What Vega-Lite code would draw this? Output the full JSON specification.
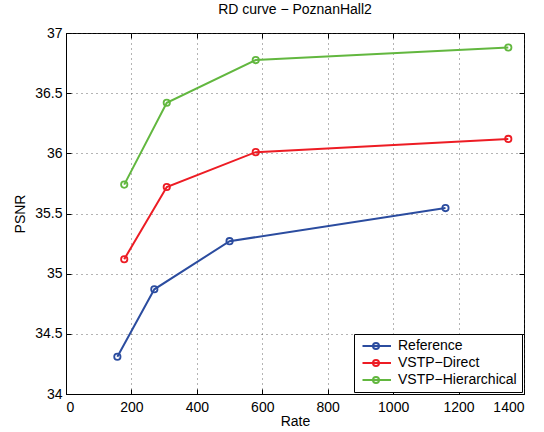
{
  "$schema": "https://vega.github.io/schema/vega-lite/v6.json",
  "width": 458,
  "height": 361,
  "autosize": {"type": "none"},
  "padding": {"left": 66, "top": 33, "right": 20, "bottom": 38},
  "background": "white",
  "title": {
    "text": "RD curve − PoznanHall2",
    "font": "Liberation Sans",
    "fontSize": 14,
    "fontWeight": "normal",
    "color": "black",
    "offset": 9
  },
  "config": {
    "view": {"stroke": "black", "strokeWidth": 1},
    "axis": {
      "labelFont": "Liberation Sans",
      "titleFont": "Liberation Sans",
      "labelFontSize": 14,
      "titleFontSize": 14,
      "titleFontWeight": "normal",
      "labelColor": "black",
      "titleColor": "black",
      "domainColor": "black",
      "tickColor": "black",
      "gridColor": "#444",
      "gridDash": [1, 4],
      "gridOpacity": 0.8
    }
  },
  "data": {
    "values": [
      {"series": "Reference", "rate": 157, "psnr": 34.31},
      {"series": "Reference", "rate": 270, "psnr": 34.87},
      {"series": "Reference", "rate": 500, "psnr": 35.27},
      {"series": "Reference", "rate": 1160, "psnr": 35.545},
      {"series": "VSTP−Direct", "rate": 178, "psnr": 35.12},
      {"series": "VSTP−Direct", "rate": 308, "psnr": 35.72},
      {"series": "VSTP−Direct", "rate": 580, "psnr": 36.01},
      {"series": "VSTP−Direct", "rate": 1352, "psnr": 36.12},
      {"series": "VSTP−Hierarchical", "rate": 178, "psnr": 35.74},
      {"series": "VSTP−Hierarchical", "rate": 308, "psnr": 36.42},
      {"series": "VSTP−Hierarchical", "rate": 580, "psnr": 36.775},
      {"series": "VSTP−Hierarchical", "rate": 1352, "psnr": 36.88}
    ]
  },
  "resolve": {"axis": {"x": "independent", "y": "independent"}},
  "layer": [
    {
      "mark": {"type": "point", "opacity": 0},
      "encoding": {
        "x": {
          "field": "rate", "type": "quantitative",
          "scale": {"domain": [0, 1400], "nice": false},
          "axis": {"orient": "top", "title": null, "labels": false, "grid": false, "domain": false, "values": [0,200,400,600,800,1000,1200,1400], "tickSize": -5}
        },
        "y": {
          "field": "psnr", "type": "quantitative",
          "scale": {"domain": [34, 37], "nice": false, "zero": false},
          "axis": {"orient": "right", "title": null, "labels": false, "grid": false, "domain": false, "values": [34,34.5,35,35.5,36,36.5,37], "tickSize": -5}
        }
      }
    },
    {
      "mark": {"type": "line", "strokeWidth": 2},
      "encoding": {
        "x": {
          "field": "rate", "type": "quantitative",
          "scale": {"domain": [0, 1400], "nice": false},
          "axis": {"orient": "bottom", "title": "Rate", "grid": true, "values": [0,200,400,600,800,1000,1200,1400], "format": "d", "tickSize": -5, "labelPadding": 11, "titlePadding": 0}
        },
        "y": {
          "field": "psnr", "type": "quantitative",
          "scale": {"domain": [34, 37], "nice": false, "zero": false},
          "axis": {"orient": "left", "title": "PSNR", "grid": true, "values": [34,34.5,35,35.5,36,36.5,37], "format": ".1~f", "tickSize": -5, "labelPadding": 9, "titlePadding": 7}
        },
        "color": {
          "field": "series", "type": "nominal",
          "scale": {"domain": ["Reference", "VSTP−Direct", "VSTP−Hierarchical"], "range": ["#2b4c9f", "#ed1c24", "#62b73f"]},
          "legend": {
            "title": null,
            "orient": "none",
            "legendX": 288,
            "legendY": 301,
            "direction": "vertical",
            "fillColor": "white",
            "strokeColor": "black",
            "padding": 5,
            "rowPadding": 3,
            "labelFont": "Liberation Sans",
            "labelFontSize": 14,
            "labelColor": "black",
            "labelOffset": 25,
            "symbolType": "M-0.7,0H5M2.6,0A0.6,0.6,0,1,1,1.4,0A0.6,0.6,0,1,1,2.6,0",
            "symbolSize": 100,
            "symbolStrokeWidth": 2,
            "symbolFillColor": "white"
          }
        }
      }
    },
    {
      "mark": {"type": "point", "shape": "circle", "filled": false, "size": 40, "strokeWidth": 1.8, "opacity": 1},
      "encoding": {
        "x": {"field": "rate", "type": "quantitative", "axis": null},
        "y": {"field": "psnr", "type": "quantitative", "axis": null},
        "color": {"field": "series", "type": "nominal", "legend": null}
      }
    }
  ]
}
